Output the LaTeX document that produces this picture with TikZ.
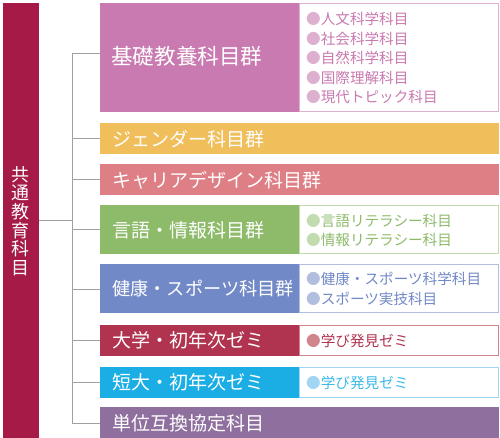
\documentclass[tikz,border=0pt]{standalone}
\usepackage{fontspec}
\setmainfont{Noto Sans CJK JP}
\definecolor{barred}{HTML}{A61A48}
\definecolor{cA}{HTML}{C97AB0}\definecolor{cAl}{HTML}{DDB0D0}
\definecolor{cB}{HTML}{F0BE5A}
\definecolor{cC}{HTML}{DE7F86}
\definecolor{cD}{HTML}{8DBB6A}\definecolor{cDl}{HTML}{C2DCB0}
\definecolor{cE}{HTML}{7189C6}\definecolor{cEl}{HTML}{B2BEE0}
\definecolor{cF}{HTML}{B0344F}\definecolor{cFl}{HTML}{D0848C}
\definecolor{cG}{HTML}{1AAEE5}\definecolor{cGl}{HTML}{A0D6F3}
\definecolor{cH}{HTML}{8F6F9E}
\definecolor{linec}{HTML}{A0A0A0}
\tikzset{
  grp/.style={anchor=north west, inner sep=0pt, outer sep=0pt, draw=none},
  lbl/.style={anchor=west, inner sep=0pt, text=white, font=\fontsize{19}{19}\selectfont},
  subbox/.style={anchor=north west, inner sep=0pt, outer sep=0pt, fill=white, line width=1pt},
  items/.style={anchor=west, inner sep=0pt, align=left, font=\fontsize{14.6}{19.5}\selectfont},
  conn/.style={draw=linec, line width=1pt}
}
\newcommand{\itm}[3]{{\color{#1}●}{\color{#2}#3}}
\begin{document}
\begin{tikzpicture}[x=1pt,y=-1pt]
\useasboundingbox (0,0) rectangle (500,438);
% left bar
\node[grp, fill=barred, minimum width=36pt, minimum height=436pt] (bar) at (3,3) {};
\node[inner sep=0pt, align=center, text=white, font=\fontsize{18}{18.7}\selectfont] (bartxt) at (21,221) {共\\通\\教\\育\\科\\目};
% boxes
\node[grp, fill=cA, minimum width=200pt, minimum height=109pt] (b1) at (100,3) {};
\node[subbox, draw=cAl, minimum width=199pt, minimum height=108pt] (s1) at (299.5,3.5) {};
\node[grp, fill=cB, minimum width=399pt, minimum height=31pt] (b2) at (100,123) {};
\node[grp, fill=cC, minimum width=399pt, minimum height=31pt] (b3) at (100,164) {};
\node[grp, fill=cD, minimum width=200pt, minimum height=49pt] (b4) at (100,205) {};
\node[subbox, draw=cDl, minimum width=199pt, minimum height=48pt] (s4) at (299.5,205.5) {};
\node[grp, fill=cE, minimum width=200pt, minimum height=49pt] (b5) at (100,264) {};
\node[subbox, draw=cEl, minimum width=199pt, minimum height=48pt] (s5) at (299.5,264.5) {};
\node[grp, fill=cF, minimum width=200pt, minimum height=31pt] (b6) at (100,325) {};
\node[subbox, draw=cFl, minimum width=199pt, minimum height=30pt] (s6) at (299.5,325.5) {};
\node[grp, fill=cG, minimum width=200pt, minimum height=31pt] (b7) at (100,367) {};
\node[subbox, draw=cGl, minimum width=199pt, minimum height=30pt] (s7) at (299.5,367.5) {};
\node[grp, fill=cH, minimum width=399pt, minimum height=32pt] (b8) at (100,407) {};
% labels
\node[lbl, font=\fontsize{21.6}{21.6}\selectfont] (l1) at (111,56) {基礎教養科目群};
\node[lbl] (l2) at (112,139) {ジェンダー科目群};
\node[lbl] (l3) at (112,180) {キャリアデザイン科目群};
\node[lbl] (l4) at (112,230) {言語・情報科目群};
\node[lbl, font=\fontsize{18.2}{18.2}\selectfont] (l5) at (112,289) {健康・スポーツ科目群};
\node[lbl] (l6) at (112,340) {大学・初年次ゼミ};
\node[lbl] (l7) at (112,382) {短大・初年次ゼミ};
\node[lbl] (l8) at (112,423) {単位互換協定科目};
% items
\node[items] (i1) at (306,58) {\itm{cAl}{cA}{人文科学科目}\\\itm{cAl}{cA}{社会科学科目}\\\itm{cAl}{cA}{自然科学科目}\\\itm{cAl}{cA}{国際理解科目}\\\itm{cAl}{cA}{現代トピック科目}};
\node[items] (i4) at (306,230.5) {\itm{cDl}{cD}{言語リテラシー科目}\\\itm{cDl}{cD}{情報リテラシー科目}};
\node[items] (i5) at (306,289) {\itm{cEl}{cE}{健康・スポーツ科学科目}\\\itm{cEl}{cE}{スポーツ実技科目}};
\node[items] (i6) at (306,340.5) {\itm{cFl}{cF}{学び発見ゼミ}};
\node[items] (i7) at (306,382.5) {\itm{cGl}{cG!85!white}{学び発見ゼミ}};
% connectors
\coordinate (top) at (72,54);
\coordinate (bot) at (72,423);
\draw[conn] (bar.east |- 0,221) -- (72,221);
\draw[conn] (top) -- (bot);
\draw[conn] (top) -- (b1.west |- top);
\foreach \b/\y in {b2/139,b3/180,b4/229.5,b5/289,b6/340,b7/382,b8/423}{
  \draw[conn] (72,\y) -- (\b.west |- 0,\y);
}
\end{tikzpicture}
\end{document}
